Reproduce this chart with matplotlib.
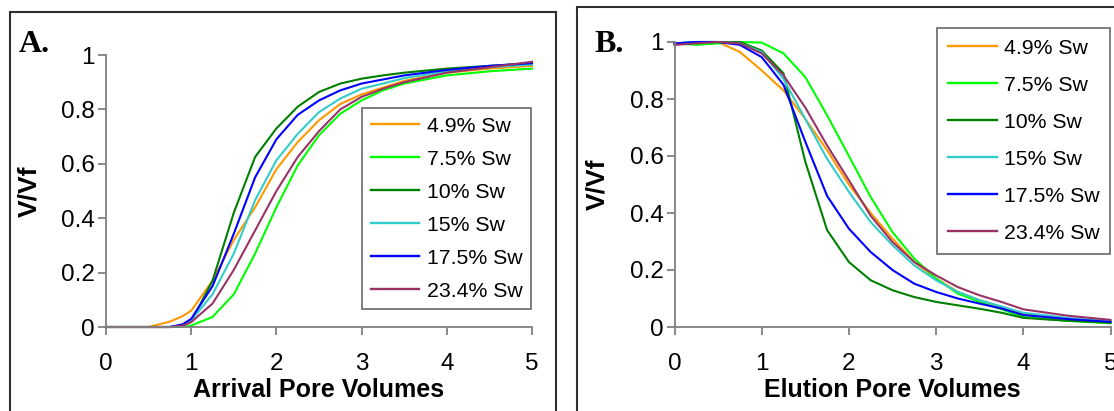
import matplotlib
matplotlib.use('Agg')
import matplotlib.pyplot as plt
from matplotlib.patches import Rectangle

plt.rcParams['font.family'] = ['Liberation Sans', 'DejaVu Sans']

# =============================================================================
# Dados
# =============================================================================
series = ['4.9% Sw', '7.5% Sw', '10% Sw', '15% Sw', '17.5% Sw', '23.4% Sw']
cores = ['#FF9900', '#00FF00', '#008000', '#33CCCC', '#0000FF', '#993366']

# painel A - chegada
x_a = [0, 0.5, 0.75, 0.9, 1, 1.25, 1.5, 1.75, 2, 2.25, 2.5, 2.75, 3, 3.25, 3.5, 4, 4.5, 5]
a_49 = [0, 0, 0.02, 0.04, 0.06, 0.17, 0.32, 0.44, 0.58, 0.68, 0.76, 0.82, 0.855, 0.88, 0.905, 0.935, 0.95, 0.96]
a_75 = [0, 0, 0, 0, 0.005, 0.037, 0.12, 0.27, 0.44, 0.594, 0.705, 0.784, 0.833, 0.87, 0.895, 0.925, 0.94, 0.95]
a_10 = [0, 0, 0, 0.005, 0.02, 0.17, 0.42, 0.625, 0.73, 0.81, 0.864, 0.895, 0.913, 0.925, 0.935, 0.95, 0.96, 0.97]
a_15 = [0, 0, 0, 0.005, 0.025, 0.12, 0.27, 0.466, 0.613, 0.71, 0.79, 0.84, 0.876, 0.895, 0.915, 0.94, 0.955, 0.965]
a_175 = [0, 0, 0, 0.01, 0.03, 0.15, 0.343, 0.55, 0.69, 0.78, 0.833, 0.87, 0.895, 0.91, 0.925, 0.945, 0.96, 0.97]
a_234 = [0, 0, 0, 0.005, 0.018, 0.086, 0.21, 0.355, 0.50, 0.625, 0.72, 0.80, 0.846, 0.876, 0.90, 0.935, 0.955, 0.975]

# painel B - eluicao
x_b = [0, 0.25, 0.5, 0.75, 1, 1.25, 1.5, 1.75, 2, 2.25, 2.5, 2.75, 3, 3.25, 3.5, 3.75, 4, 4.5, 5]
b_49 = [0.995, 0.995, 1.0, 0.965, 0.90, 0.83, 0.73, 0.62, 0.50, 0.40, 0.31, 0.228, 0.17, 0.123, 0.094, 0.07, 0.045, 0.028, 0.018]
b_75 = [0.995, 0.99, 0.995, 1.0, 0.998, 0.96, 0.877, 0.743, 0.60, 0.456, 0.333, 0.24, 0.17, 0.117, 0.088, 0.062, 0.035, 0.022, 0.013]
b_10 = [0.995, 1.0, 1.0, 1.0, 0.97, 0.89, 0.58, 0.34, 0.228, 0.164, 0.129, 0.105, 0.088, 0.076, 0.064, 0.05, 0.032, 0.022, 0.015]
b_15 = [0.995, 1.0, 1.0, 0.995, 0.965, 0.87, 0.73, 0.59, 0.474, 0.368, 0.287, 0.216, 0.164, 0.123, 0.094, 0.072, 0.05, 0.032, 0.02]
b_175 = [0.995, 1.0, 1.0, 0.99, 0.947, 0.85, 0.65, 0.46, 0.345, 0.263, 0.20, 0.152, 0.123, 0.10, 0.082, 0.065, 0.042, 0.028, 0.018]
b_234 = [0.99, 0.995, 1.0, 0.995, 0.96, 0.883, 0.77, 0.637, 0.515, 0.39, 0.298, 0.228, 0.181, 0.14, 0.111, 0.088, 0.062, 0.04, 0.025]

xticks = [0, 1, 2, 3, 4, 5]
yticks = [0, 0.2, 0.4, 0.6, 0.8, 1]
ytick_labels = ['0', '0.2', '0.4', '0.6', '0.8', '1']

W, H = 1114, 411
fig = plt.figure(figsize=(W / 100, H / 100), dpi=100)

# molduras dos paineis
fig.add_artist(Rectangle((10 / W, -0.1), 546 / W, 1.1 - 12 / H, transform=fig.transFigure,
                         fill=False, edgecolor='#303030', linewidth=1.5))
fig.add_artist(Rectangle((577 / W, -0.1), 0.6, 1.1 - 7 / H, transform=fig.transFigure,
                         fill=False, edgecolor='#303030', linewidth=1.5))

ax_a = fig.add_axes([106 / W, 84 / H, 426 / W, 272 / H])
ax_b = fig.add_axes([674.5 / W, 84 / H, 436 / W, 285 / H])


def estilo(ax, xlabel, ylab_x):
    ax.set_xlim(0, 5)
    ax.set_ylim(0, 1)
    for s in ['top', 'right']:
        ax.spines[s].set_visible(False)
    for s in ['left', 'bottom']:
        ax.spines[s].set_color('#808080')
        ax.spines[s].set_linewidth(1.3)
    ax.set_xticks(xticks)
    ax.set_yticks(yticks)
    ax.set_yticklabels(ytick_labels)
    ax.tick_params(axis='x', direction='out', length=6, width=1.3, color='#808080', pad=13, labelsize=17.5)
    ax.tick_params(axis='y', direction='out', length=6, width=1.3, color='#808080', pad=2, labelsize=17.5)
    ax.set_xlabel(xlabel, fontsize=18, fontweight='bold', labelpad=2)
    ax.set_ylabel('V/Vf', fontsize=19, fontweight='bold')
    ax.yaxis.set_label_coords(ylab_x, 0.5)


dados_a = [a_49, a_75, a_10, a_15, a_175, a_234]
dados_b = [b_49, b_75, b_10, b_15, b_175, b_234]

for i in range(len(series)):
    ax_a.plot(x_a, dados_a[i], color=cores[i], lw=1.5, label=series[i], clip_on=False)
    ax_b.plot(x_b, dados_b[i], color=cores[i], lw=1.5, label=series[i], clip_on=False)

estilo(ax_a, 'Arrival Pore Volumes', (41 - 106) / 426)
estilo(ax_b, 'Elution Pore Volumes', (609 - 674.5) / 436)

leg_a = ax_a.legend(loc='upper left', bbox_to_anchor=(362 / W, (H - 108) / H), bbox_transform=fig.transFigure,
                    fontsize=15.3, frameon=True, fancybox=False, borderaxespad=0, borderpad=0.4,
                    labelspacing=0.66, handlelength=2.3, handletextpad=0.35)
leg_b = ax_b.legend(loc='upper left', bbox_to_anchor=(937 / W, (H - 28) / H), bbox_transform=fig.transFigure,
                    fontsize=15.3, frameon=True, fancybox=False, borderaxespad=0, borderpad=0.5,
                    labelspacing=0.85, handlelength=2.3, handletextpad=0.35)
for leg in [leg_a, leg_b]:
    leg.get_frame().set_edgecolor('#505050')
    leg.get_frame().set_linewidth(1.3)
    for l in leg.get_lines():
        l.set_linewidth(1.7)

fig.text(19 / W, (H - 45) / H, 'A.', family='Liberation Serif', fontsize=23, fontweight='bold', va='center')
fig.text(594 / W, (H - 44) / H, 'B.', family='Liberation Serif', fontsize=23, fontweight='bold', va='center')

fig.savefig('out.png', dpi=100)
